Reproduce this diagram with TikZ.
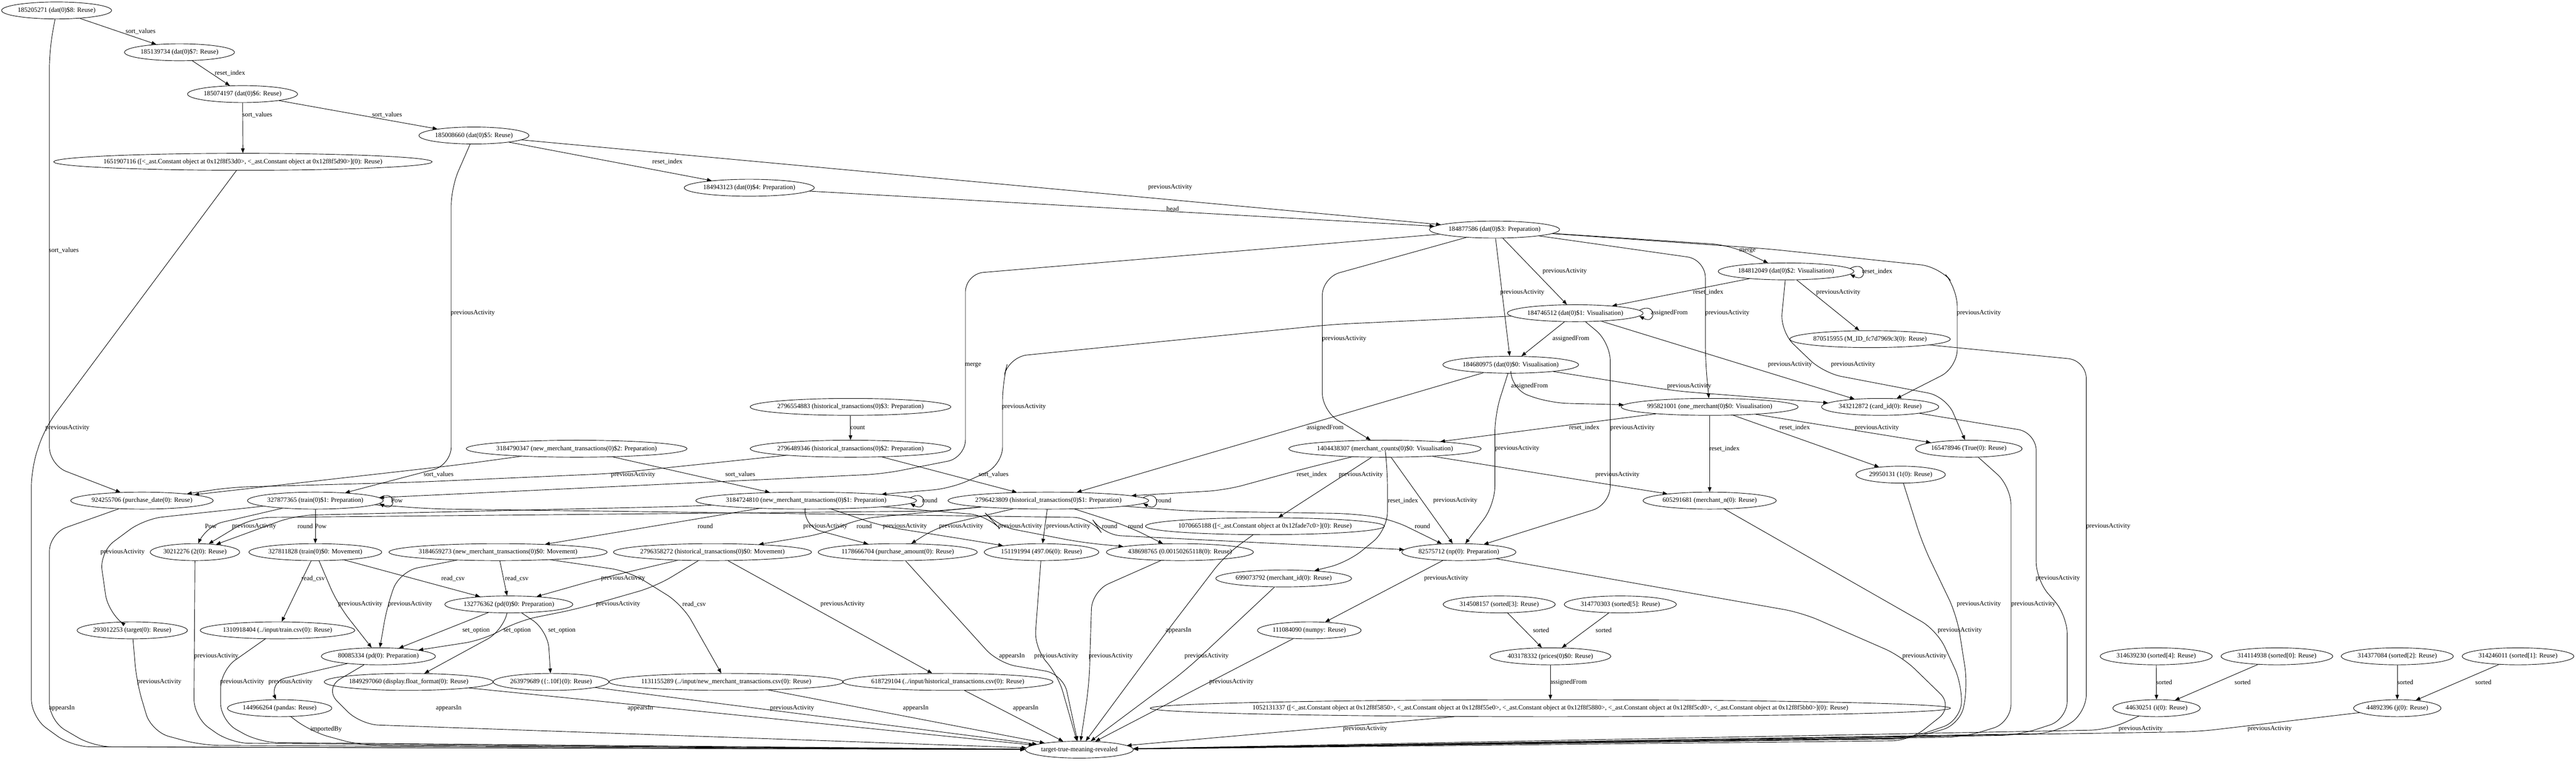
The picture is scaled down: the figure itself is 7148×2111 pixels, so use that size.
\documentclass[tikz,border=0pt]{standalone}
\usepackage{fontspec}
\newfontfamily\nfont{Liberation Serif}
\usetikzlibrary{calc,shapes.geometric,arrows.meta}
\newcommand\gvfont{\nfont\fontsize{9.1}{10}\selectfont}
\tikzset{
  gnode/.style={draw, ellipse, line width=0.65pt, inner xsep=0pt, inner ysep=0pt, minimum height=23.5pt, font=\gvfont},
  gwide/.style={inner xsep=-3pt},
  glbl/.style={inner sep=0.5pt, font=\gvfont},
  gedge/.style={line width=0.65pt, line join=round, -{Triangle[length=6.5pt,width=5pt]}, rounded corners=25pt},
}
\newcommand\gvloop[2]{\draw[gedge] ($(#1.east)+(-#2,-8)$) .. controls +(48,-26) and +(48,26) .. ($(#1.east)+(-#2,8)$);}
\begin{document}
\begin{tikzpicture}[x=0.5pt,y=-0.5pt]
\fill[white] (0,0) rectangle (7148,2111);
\useasboundingbox (0,0) rectangle (7148,2111);
% ---------------- nodes
\node[gnode] (n185205271) at (157,29) {185205271 (dat(0)\$8: Reuse)};
\node[gnode] (n185139734) at (498,145) {185139734 (dat(0)\$7: Reuse)};
\node[gnode] (n185074197) at (673,261) {185074197 (dat(0)\$6: Reuse)};
\node[gnode] (n185008660) at (1315,376) {185008660 (dat(0)\$5: Reuse)};
\node[gnode,inner xsep=-7.8pt] (n1651907116) at (674,449) {1651907116 ([<\_ast.Constant object at 0x12f8f53d0>, <\_ast.Constant object at 0x12f8f5d90>](0): Reuse)};
\node[gnode] (n184943123) at (2079,521) {184943123 (dat(0)\$4: Preparation)};
\node[gnode] (n184877586) at (4147,637) {184877586 (dat(0)\$3: Preparation)};
\node[gnode] (n184812049) at (4956,753) {184812049 (dat(0)\$2: Visualisation)};
\node[gnode] (n184746512) at (4371,869) {184746512 (dat(0)\$1: Visualisation)};
\node[gnode] (n870515955) at (5189,941) {870515955 (M\_ID\_fc7d7969c3(0): Reuse)};
\node[gnode] (n184680975) at (4192,1012) {184680975 (dat(0)\$0: Visualisation)};
\node[gnode] (n995821001) at (4744,1129) {995821001 (one\_merchant(0)\$0: Visualisation)};
\node[gnode] (n343212872) at (5217,1129) {343212872 (card\_id(0): Reuse)};
\node[gnode,gwide] (n2796554883) at (2360,1129) {2796554883 (historical\_transactions(0)\$3: Preparation)};
\node[gnode,gwide] (n2796489346) at (2360,1245) {2796489346 (historical\_transactions(0)\$2: Preparation)};
\node[gnode,gwide] (n3184790347) at (1600,1245) {3184790347 (new\_merchant\_transactions(0)\$2: Preparation)};
\node[gnode] (n1404438307) at (3843,1245) {1404438307 (merchant\_counts(0)\$0: Visualisation)};
\node[gnode] (n165478946) at (5463,1245) {165478946 (True(0): Reuse)};
\node[gnode] (n29950131) at (5274,1317) {29950131 (1(0): Reuse)};
\node[gnode] (n924255706) at (394,1389) {924255706 (purchase\_date(0): Reuse)};
\node[gnode] (n327877365) at (875,1389) {327877365 (train(0)\$1: Preparation)};
\node[gnode,gwide] (n3184724810) at (2237,1389) {3184724810 (new\_merchant\_transactions(0)\$1: Preparation)};
\node[gnode,gwide] (n2796423809) at (2909,1389) {2796423809 (historical\_transactions(0)\$1: Preparation)};
\node[gnode] (n605291681) at (4744,1389) {605291681 (merchant\_n(0): Reuse)};
\node[gnode,gwide] (n1070665188) at (3510,1460) {1070665188 ([<\_ast.Constant object at 0x12fade7c0>](0): Reuse)};
\node[gnode] (n30212276) at (541,1532) {30212276 (2(0): Reuse)};
\node[gnode] (n327811828) at (875,1532) {327811828 (train(0)\$0: Movement)};
\node[gnode,gwide] (n3184659273) at (1382,1532) {3184659273 (new\_merchant\_transactions(0)\$0: Movement)};
\node[gnode,gwide] (n2796358272) at (1977,1532) {2796358272 (historical\_transactions(0)\$0: Movement)};
\node[gnode] (n1178666704) at (2491,1532) {1178666704 (purchase\_amount(0): Reuse)};
\node[gnode] (n151191994) at (2890,1532) {151191994 (497.06(0): Reuse)};
\node[gnode] (n438698765) at (3274,1532) {438698765 (0.00150265118(0): Reuse)};
\node[gnode] (n82575712) at (4048,1532) {82575712 (np(0): Preparation)};
\node[gnode] (n699073792) at (3562,1605) {699073792 (merchant\_id(0): Reuse)};
\node[gnode] (n132776362) at (1412,1677) {132776362 (pd(0)\$0: Preparation)};
\node[gnode] (n314508157) at (4160,1677) {314508157 (sorted[3]: Reuse)};
\node[gnode] (n314770303) at (4496,1677) {314770303 (sorted[5]: Reuse)};
\node[gnode] (n293012253) at (367,1749) {293012253 (target(0): Reuse)};
\node[gnode] (n1310918404) at (770,1749) {1310918404 (../input/train.csv(0): Reuse)};
\node[gnode] (n111084090) at (3633,1749) {111084090 (numpy: Reuse)};
\node[gnode] (n80085334) at (1050,1821) {80085334 (pd(0): Preparation)};
\node[gnode] (n403178332) at (4302,1821) {403178332 (prices(0)\$0: Reuse)};
\node[gnode] (n314639230) at (5983,1821) {314639230 (sorted[4]: Reuse)};
\node[gnode] (n314114938) at (6318,1821) {314114938 (sorted[0]: Reuse)};
\node[gnode] (n314377084) at (6652,1821) {314377084 (sorted[2]: Reuse)};
\node[gnode] (n314246011) at (6987,1821) {314246011 (sorted[1]: Reuse)};
\node[gnode] (n1849297060) at (1134,1892) {1849297060 (display.float\_format(0): Reuse)};
\node[gnode] (n263979689) at (1529,1892) {263979689 (\{:.10f\}(0): Reuse)};
\node[gnode,gwide] (n1131155289) at (2015,1892) {1131155289 (../input/new\_merchant\_transactions.csv(0): Reuse)};
\node[gnode,gwide] (n618729104) at (2630,1892) {618729104 (../input/historical\_transactions.csv(0): Reuse)};
\node[gnode] (n144966264) at (776,1965) {144966264 (pandas: Reuse)};
\node[gnode,inner xsep=-20.7pt] (n1052131337) at (4302,1965) {1052131337 ([<\_ast.Constant object at 0x12f8f5850>, <\_ast.Constant object at 0x12f8f55e0>, <\_ast.Constant object at 0x12f8f5880>, <\_ast.Constant object at 0x12f8f5cd0>, <\_ast.Constant object at 0x12f8f5bb0>](0): Reuse)};
\node[gnode] (n44630251) at (5984,1965) {44630251 (i(0): Reuse)};
\node[gnode] (n44892396) at (6652,1965) {44892396 (j(0): Reuse)};
\node[gnode] (tgt) at (2995,2080) {target-true-meaning-revealed};
% ---------------- labels
\node[glbl] (l1) at (390,87) {sort\_values};
\node[glbl] (l2) at (638,203) {reset\_index};
\node[glbl] (l3) at (714,319) {sort\_values};
\node[glbl] (l4) at (1074,319) {sort\_values};
\node[glbl] (l5) at (177,694) {sort\_values};
\node[glbl] (l6) at (1852,449) {reset\_index};
\node[glbl] (l7) at (3247,520) {previousActivity};
\node[glbl] (l8) at (3254,579) {head};
\node[glbl] (l9) at (187,1187) {previousActivity};
\node[glbl] (l10) at (1312,869) {previousActivity};
\node[glbl] (l11) at (2700,1013) {merge};
\node[glbl] (l12) at (3730,940) {previousActivity};
\node[glbl] (l13) at (4342,753) {previousActivity};
\node[glbl] (l14) at (4224,811) {previousActivity};
\node[glbl] (l15) at (4849,695) {merge};
\node[glbl] (l16) at (4793,869) {previousActivity};
\node[glbl] (l17) at (5491,868) {previousActivity};
\node[glbl] (l18) at (5209,753) {reset\_index};
\node[glbl] (l19) at (4740,811) {reset\_index};
\node[glbl] (l20) at (5101,811) {previousActivity};
\node[glbl] (l21) at (5142,1012) {previousActivity};
\node[glbl] (l22) at (4632,869) {assignedFrom};
\node[glbl] (l23) at (4359,940) {assignedFrom};
\node[glbl] (l24) at (4967,1012) {previousActivity};
\node[glbl] (l25) at (2841,1129) {previousActivity};
\node[glbl] (l26) at (4530,1187) {previousActivity};
\node[glbl] (l27) at (4244,1071) {assignedFrom};
\node[glbl] (l28) at (4687,1071) {previousActivity};
\node[glbl] (l29) at (3677,1187) {assignedFrom};
\node[glbl] (l30) at (4210,1245) {previousActivity};
\node[glbl] (l31) at (4396,1187) {reset\_index};
\node[glbl] (l32) at (4785,1245) {reset\_index};
\node[glbl] (l33) at (4980,1187) {reset\_index};
\node[glbl] (l34) at (5208,1187) {previousActivity};
\node[glbl] (l35) at (4488,1317) {previousActivity};
\node[glbl] (l36) at (3893,1389) {reset\_index};
\node[glbl] (l37) at (4038,1389) {previousActivity};
\node[glbl] (l38) at (3640,1317) {reset\_index};
\node[glbl] (l39) at (3776,1317) {previousActivity};
\node[glbl] (l40) at (2380,1187) {count};
\node[glbl] (l41) at (2757,1317) {sort\_values};
\node[glbl] (l42) at (2054,1317) {sort\_values};
\node[glbl] (l43) at (1217,1317) {sort\_values};
\node[glbl] (l44) at (1757,1317) {previousActivity};
\node[glbl] (l45) at (2580,1389) {round};
\node[glbl] (l46) at (3229,1389) {round};
\node[glbl] (l47) at (1101,1389) {Pow};
\node[glbl] (l48) at (585,1460) {Pow};
\node[glbl] (l49) at (705,1460) {previousActivity};
\node[glbl] (l50) at (847,1460) {round};
\node[glbl] (l51) at (890,1460) {Pow};
\node[glbl] (l52) at (340,1532) {previousActivity};
\node[glbl] (l53) at (1957,1460) {round};
\node[glbl] (l54) at (2290,1460) {previousActivity};
\node[glbl] (l55) at (2398,1460) {round};
\node[glbl] (l56) at (2511,1460) {previousActivity};
\node[glbl] (l57) at (2667,1460) {previousActivity};
\node[glbl] (l58) at (2831,1460) {previousActivity};
\node[glbl] (l59) at (2964,1460) {previousActivity};
\node[glbl] (l60) at (3079,1460) {round};
\node[glbl] (l61) at (3151,1460) {round};
\node[glbl] (l62) at (3947,1460) {round};
\node[glbl] (l63) at (869,1605) {read\_csv};
\node[glbl] (l64) at (1257,1605) {read\_csv};
\node[glbl] (l65) at (1434,1605) {read\_csv};
\node[glbl] (l66) at (1729,1605) {previousActivity};
\node[glbl] (l67) at (1000,1677) {previousActivity};
\node[glbl] (l68) at (1138,1677) {previousActivity};
\node[glbl] (l69) at (1715,1677) {previousActivity};
\node[glbl] (l70) at (1926,1677) {read\_csv};
\node[glbl] (l71) at (2338,1677) {previousActivity};
\node[glbl] (l72) at (1321,1749) {set\_option};
\node[glbl] (l73) at (1435,1749) {set\_option};
\node[glbl] (l74) at (1559,1749) {set\_option};
\node[glbl] (l75) at (600,1821) {previousActivity};
\node[glbl] (l76) at (672,1892) {previousActivity};
\node[glbl] (l77) at (806,1892) {previousActivity};
\node[glbl] (l78) at (1245,1965) {appearsIn};
\node[glbl] (l79) at (905,2024) {importedBy};
\node[glbl] (l80) at (1777,1965) {appearsIn};
\node[glbl] (l81) at (2198,1965) {previousActivity};
\node[glbl] (l82) at (2541,1965) {appearsIn};
\node[glbl] (l83) at (2846,1965) {appearsIn};
\node[glbl] (l84) at (2808,1821) {appearsIn};
\node[glbl] (l85) at (2931,1821) {previousActivity};
\node[glbl] (l86) at (3082,1821) {previousActivity};
\node[glbl] (l87) at (3270,1749) {appearsIn};
\node[glbl] (l88) at (3348,1821) {previousActivity};
\node[glbl] (l89) at (3417,1892) {previousActivity};
\node[glbl] (l90) at (4013,1605) {previousActivity};
\node[glbl] (l91) at (4276,1749) {sorted};
\node[glbl] (l92) at (4450,1749) {sorted};
\node[glbl] (l93) at (4352,1893) {assignedFrom};
\node[glbl] (l94) at (3788,2022) {previousActivity};
\node[glbl] (l95) at (6005,1893) {sorted};
\node[glbl] (l96) at (6223,1893) {sorted};
\node[glbl] (l97) at (6674,1893) {sorted};
\node[glbl] (l98) at (6891,1893) {sorted};
\node[glbl] (l99) at (5940,2023) {previousActivity};
\node[glbl] (l100) at (6298,2023) {previousActivity};
\node[glbl] (l101) at (5850,1461) {previousActivity};
\node[glbl] (l102) at (5710,1605) {previousActivity};
\node[glbl] (l103) at (5642,1677) {previousActivity};
\node[glbl] (l104) at (5491,1677) {previousActivity};
\node[glbl] (l105) at (5438,1749) {previousActivity};
\node[glbl] (l106) at (5340,1821) {previousActivity};
\node[glbl] (l107) at (172,1965) {appearsIn};
\node[glbl] (l108) at (442,1892) {previousActivity};
% ---------------- edges
\draw[gedge] (n185205271) -- (n185139734);
\draw[gedge] (n185139734) -- (n185074197);
\draw[gedge] (n185074197) -- (n1651907116);
\draw[gedge] (n185074197) -- (n185008660);
\draw[gedge] (n185205271) -- (137,140) -- (137,1290) -- (n924255706);
\draw[gedge] (n185008660) -- (n184943123);
\draw[gedge] (n185008660) -- (n184877586);
\draw[gedge] (n184943123) -- (n184877586);
\draw[gedge] (n1651907116) -- (l9.west) -- (87,1300) -- (87,1990) -- (200,2072) -- (tgt);
\draw[gedge] (n185008660) -- (1252,520) -- (1252,1290) -- (n327877365);
\draw[gedge] (n184877586) -- (2679,760) -- (2679,1270) -- (2450,1315) -- (n327877365);
\draw[gedge] (n184877586) -- (3669,770) -- (3669,1140) -- (n1404438307);
\draw[gedge] (n184877586) -- (n184746512);
\draw[gedge] (n184877586) -- (n184680975);
\draw[gedge] (n184877586) -- (4800,680) -- (n184812049);
\draw[gedge] (n184877586) -- (4732,720) -- (4732,1000) -- (n995821001);
\draw[gedge] (n184877586) -- (4900,690) -- (5380,740) -- (5431,800) -- (5431,1020) -- (n343212872);
\gvloop{n184812049}{11}
\draw[gedge] (n184812049) -- (n184746512);
\draw[gedge] (n184812049) -- (n870515955);
\draw[gedge] (n184812049) -- (4940,920) -- (5060,1035) -- (5400,1100) -- (n165478946);
\gvloop{n184746512}{11}
\draw[gedge] (n184746512) -- (n184680975);
\draw[gedge] (n184746512) -- (n343212872);
\draw[gedge] (n184746512) -- (3700,900) -- (2800,990) -- (2782,1060) -- (2782,1290) -- (2640,1355) -- (n3184724810);
\draw[gedge] (n184746512) -- (4468,950) -- (4468,1400) -- (n82575712);
\draw[gedge] (n184680975) -- (4193,1080) -- (4300,1118) -- (n995821001);
\draw[gedge] (n184680975) -- (4650,1085) -- (n343212872);
\draw[gedge] (n184680975) -- (n2796423809);
\draw[gedge] (n184680975) -- (4148,1150) -- (4148,1400) -- (n82575712);
\draw[gedge] (n995821001) -- (n1404438307);
\draw[gedge] (n995821001) -- (n605291681);
\draw[gedge] (n995821001) -- (n29950131);
\draw[gedge] (n995821001) -- (n165478946);
\draw[gedge] (n1404438307) -- (n605291681);
\draw[gedge] (n1404438307) -- (3850,1300) -- (3850,1470) -- (3740,1560) -- (n699073792);
\draw[gedge] (n1404438307) -- (n82575712);
\draw[gedge] (n1404438307) -- (3620,1300) -- (3400,1360) -- (n2796423809);
\draw[gedge] (n1404438307) -- (n1070665188);
\draw[gedge] (n2796554883) -- (n2796489346);
\draw[gedge] (n2796489346) -- (n2796423809);
\draw[gedge] (n3184790347) -- (n3184724810);
\draw[gedge] (n3184790347) -- (1270,1290) -- (n924255706);
\draw[gedge] (n2796489346) -- (1694,1314) -- (1150,1338) -- (640,1352) -- (n924255706);
\gvloop{n3184724810}{18}
\gvloop{n2796423809}{16}
\gvloop{n327877365}{11}
\draw[gedge] (n327877365) -- (569,1460) -- (n30212276);
\draw[gedge] (n2796423809) -- (2600,1418) -- (700,1436) -- (n30212276);
\draw[gedge] (n3184724810) -- (1900,1405) -- (820,1430) -- (n30212276);
\draw[gedge] (n327877365) -- (n327811828);
\draw[gedge] (n327877365) -- (400,1440) -- (276,1532) -- (300,1700) -- (n293012253);
\draw[gedge] (n3184724810) -- (n3184659273);
\draw[gedge] (n3184724810) -- (2228,1460) -- (n1178666704);
\draw[gedge] (n2796423809) -- (2378,1440) -- (2290,1480) -- (n2796358272);
\draw[gedge] (n3184724810) -- (2448,1460) -- (2700,1500) -- (n151191994);
\draw[gedge] (n2796423809) -- (2605,1460) -- (n1178666704);
\draw[gedge] (n3184724810) -- (2740,1430) -- (2768,1460) -- (3000,1505) -- (n438698765);
\draw[gedge] (n2796423809) -- (n151191994);
\draw[gedge] (n327877365) -- (1200,1412) -- (3028,1436) -- (3060,1484) -- (3600,1511) -- (n82575712);
\draw[gedge] (n2796423809) -- (3130,1460) -- (n438698765);
\draw[gedge] (n2796423809) -- (3300,1418) -- (3750,1425) -- (3860,1440) -- (n82575712);
\draw[gedge] (n327811828) -- (n1310918404);
\draw[gedge] (n327811828) -- (n132776362);
\draw[gedge] (n3184659273) -- (n132776362);
\draw[gedge] (n2796358272) -- (l66.west) -- (n132776362);
\draw[gedge] (n327811828) -- (937,1677) -- (n80085334);
\draw[gedge] (n3184659273) -- (1110,1585) -- (1075,1677) -- (n80085334);
\draw[gedge] (n2796358272) -- (1820,1627) -- (1600,1690) -- (1440,1722) -- (1340,1776) -- (n80085334);
\draw[gedge] (n3184659273) -- (1745,1585) -- (1893,1677) -- (n1131155289);
\draw[gedge] (n2796358272) -- (n618729104);
\draw[gedge] (n132776362) -- (n80085334);
\draw[gedge] (n132776362) -- (1397,1749) -- (n1849297060);
\draw[gedge] (n132776362) -- (1520,1749) -- (n263979689);
\draw[gedge] (n30212276) -- (538,1990) -- (640,2062) -- (tgt);
\draw[gedge] (n1310918404) -- (612,1860) -- (612,2000) -- (720,2060) -- (tgt);
\draw[gedge] (n80085334) -- (745,1892) -- (n144966264);
\draw[gedge] (n80085334) -- (900,1910) -- (1000,2010) -- (2000,2045) -- (tgt);
\draw[gedge] (n144966264) -- (862,2030) -- (1000,2068) -- (tgt);
\draw[gedge] (n1849297060) -- (tgt);
\draw[gedge] (n263979689) -- (tgt);
\draw[gedge] (n1131155289) -- (tgt);
\draw[gedge] (n618729104) -- (tgt);
\draw[gedge] (n1178666704) -- (2770,1840) -- (2950,1870) -- (tgt);
\draw[gedge] (n151191994) -- (2870,1800) -- (2935,1870) -- (tgt);
\draw[gedge] (n438698765) -- (3030,1640) -- (3022,1900) -- (tgt);
\draw[gedge] (n1070665188) -- (3400,1540) -- (3240,1749) -- (tgt);
\draw[gedge] (n699073792) -- (3290,1860) -- (tgt);
\draw[gedge] (n111084090) -- (tgt);
\draw[gedge] (n82575712) -- (n111084090);
\draw[gedge] (n314508157) -- (n403178332);
\draw[gedge] (n314770303) -- (n403178332);
\draw[gedge] (n403178332) -- (n1052131337);
\draw[gedge] (n1052131337) -- (tgt);
\draw[gedge] (n314639230) -- (n44630251);
\draw[gedge] (n314114938) -- (n44630251);
\draw[gedge] (n314377084) -- (n44892396);
\draw[gedge] (n314246011) -- (n44892396);
\draw[gedge] (n44630251) -- (5850,2025) -- (tgt);
\draw[gedge] (n44892396) -- (6100,2030) -- (tgt);
\draw[gedge] (n870515955) -- (5789,1000) -- (5789,1978) -- (5700,2035) -- (tgt);
\draw[gedge] (n343212872) -- (5650,1200) -- (5650,1609) -- (5736,1708) -- (5736,1996) -- (5600,2040) -- (tgt);
\draw[gedge] (n165478946) -- (5580,1350) -- (5580,2005) -- (5450,2045) -- (tgt);
\draw[gedge] (n29950131) -- (5335,1510) -- (5430,1708) -- (5460,1900) -- (5440,2010) -- (5300,2050) -- (tgt);
\draw[gedge] (n605291681) -- (5375,1749) -- (5445,1900) -- (5440,2000) -- (5300,2048) -- (tgt);
\draw[gedge] (n82575712) -- (5000,1700) -- (5277,1821) -- (5420,1960) -- (5300,2055) -- (tgt);
\draw[gedge] (n924255706) -- (137,1480) -- (137,2000) -- (260,2072) -- (tgt);
\draw[gedge] (n293012253) -- (379,1892) -- (420,2030) -- (560,2068) -- (tgt);
\end{tikzpicture}
\end{document}
